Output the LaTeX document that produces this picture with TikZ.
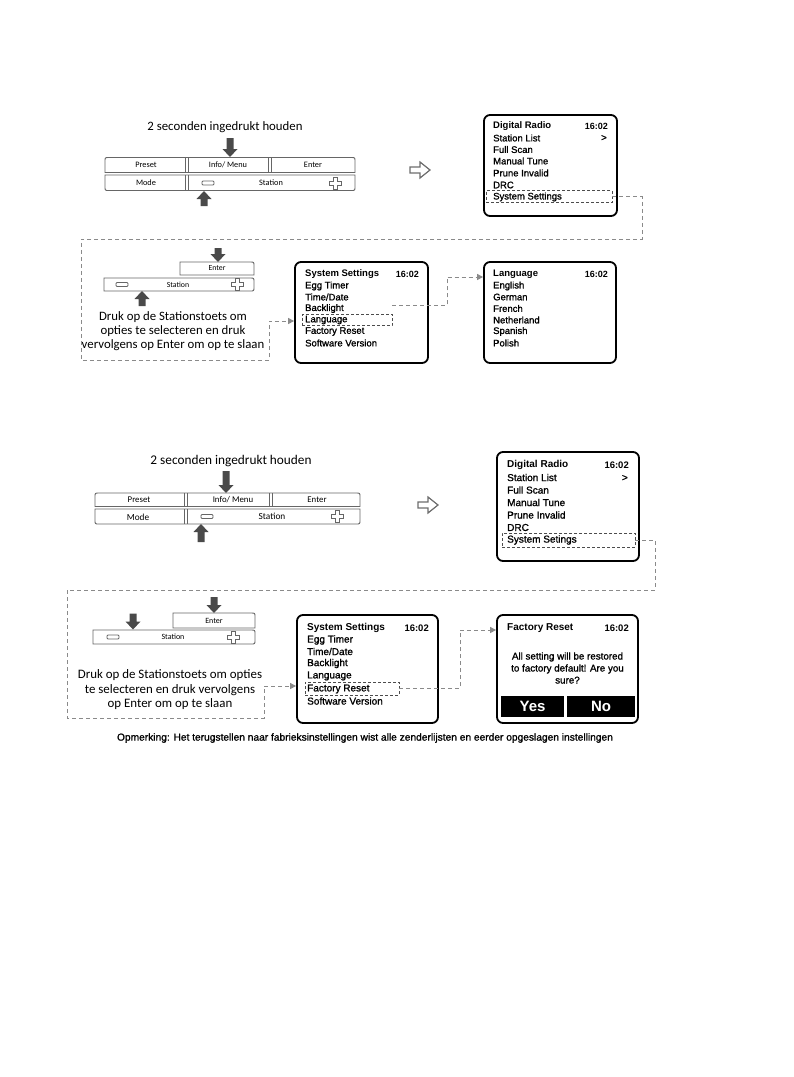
\documentclass[tikz,border=0pt]{standalone}
\usepackage{fontspec}
\setmainfont{Liberation Sans}
\newfontfamily\calfont{Carlito}
\newfontfamily\itemfont[FakeBold=1.2]{Liberation Sans}
\usetikzlibrary{arrows.meta}
\definecolor{arrgray}{HTML}{4A4A4A}
\definecolor{pline}{HTML}{666666}
\definecolor{cgray}{HTML}{8A8A8A}
\newcommand\rowtop[4]{\draw[panel] (#1,#4) -- (#1,{#3+4}) .. controls (#1,#3) .. ({#1+4},#3) -- ({#2-4},#3) .. controls (#2,#3) .. (#2,{#3+4}) -- (#2,#4) -- cycle;}
\newcommand\rowbot[4]{\draw[panel] (#1,#3) -- (#2,#3) -- (#2,{#4-4}) .. controls (#2,#4) .. ({#2-4},#4) -- ({#1+4},#4) .. controls (#1,#4) .. (#1,{#4-4}) -- cycle;}
\newcommand\dbl[3]{\draw[panel] (#1-1.5,#2) -- (#1-1.5,#3) (#1+1.5,#2) -- (#1+1.5,#3);}
\begin{document}
\begin{tikzpicture}[x=1pt,y=-1pt,
  panel/.style={draw=pline,line width=0.9pt},
  btxt/.style={inner sep=0pt,font=\calfont\fontsize{8.3}{9}\selectfont},
  instr/.style={inner sep=0pt,align=center,font=\calfont\fontsize{12.8}{14}\selectfont},
  screen/.style={draw=black,line width=1.8pt,rounded corners=6pt,inner sep=0pt},
  stitle/.style={anchor=west,inner sep=0pt,font=\bfseries\fontsize{9.5}{10}\selectfont},
  sitem/.style={anchor=west,inner sep=0pt,font=\itemfont\fontsize{9.5}{10}\selectfont},
  stime/.style={anchor=east,inner sep=0pt,font=\bfseries\fontsize{9}{10}\selectfont},
  stitleb/.style={anchor=west,inner sep=0pt,font=\bfseries\fontsize{10}{10}\selectfont},
  sitemb/.style={anchor=west,inner sep=0pt,font=\itemfont\fontsize{10}{10}\selectfont},
  hl/.style={draw=black!70,dash pattern=on 3pt off 2pt,line width=0.6pt,inner sep=0pt},
  conn/.style={draw=cgray,dash pattern=on 4pt off 3pt,line width=1pt},
  tip/.style={-{Triangle[length=6pt,width=6pt,fill=cgray]}},
  icon/.style={draw=pline,line width=0.8pt},
  downarr/.pic={\fill[arrgray] (0,0) -- (-7.5,-8) -- (-3.5,-8) -- (-3.5,-#1) -- (3.5,-#1) -- (3.5,-8) -- (7.5,-8) -- cycle;},
  uparr/.pic={\fill[arrgray] (0,0) -- (-7.5,8) -- (-3.5,8) -- (-3.5,#1) -- (3.5,#1) -- (3.5,8) -- (7.5,8) -- cycle;},
  hollow/.pic={\draw[draw=arrgray!80,line width=1.2pt,line join=miter] (0,-3) -- (10,-3) -- (10,-8) -- (20,0) -- (10,8) -- (10,3) -- (0,3) -- cycle;},
  plusico/.pic={\draw[icon] (-2,-6) -- (2,-6) -- (2,-2) -- (6,-2) -- (6,2) -- (2,2) -- (2,6) -- (-2,6) -- (-2,2) -- (-6,2) -- (-6,-2) -- (-2,-2) -- cycle;},
  minusico/.pic={\draw[icon,rounded corners=1pt] (-6,-2) rectangle (6,2);}
]
\useasboundingbox (0,0) rectangle (794,1077);
\fill[white] (0,0) rectangle (794,1077);

% ================= SECTION 1 =================
\node[instr] (t1) at (225,127) {2 seconden ingedrukt houden};
\rowtop{105}{355}{157.5}{172.5}
\rowbot{105}{355}{175}{190.5}
\dbl{186.5}{157.5}{172.5}
\dbl{186.5}{175}{190.5}
\dbl{270}{157.5}{172.5}
\node[btxt] (b1a) at (146,165) {Preset};
\node[btxt] (b1b) at (228,165) {Info/ Menu};
\node[btxt] (b1c) at (313,165) {Enter};
\node[btxt] (b1d) at (146,183) {Mode};
\node[btxt] (b1e) at (271,183) {Station};
\pic at (208,183) {minusico};
\pic at (335,183) {plusico};
\pic at (230,157) {downarr=19};
\pic at (204,191) {uparr=15};
\pic at (410,170) {hollow};

% screen 1
\node[screen,minimum width=133pt,minimum height=101pt] (s1) at (550.5,165.5) {};
\node[stitle] (s1a) at (493,126) {Digital Radio};
\node[stime] (s1t) at (608,126) {16:02};
\node[sitem] (s1b) at (493,138) {Station List};
\node[sitem,anchor=east] (s1g) at (607,138) {>};
\node[sitem] (s1c) at (493,149.5) {Full Scan};
\node[sitem] (s1d) at (493,161) {Manual Tune};
\node[sitem] (s1e) at (493,173) {Prune Invalid};
\node[sitem] (s1f) at (493,185) {DRC};
\node[sitem] (s1h) at (493,197) {System Settings};
\node[hl,minimum width=126pt,minimum height=12pt] (hl1) at (549,196.5) {};

% sub diagram 1
\draw[panel] (180,275) -- (180,262) -- (250,262) .. controls (254,262) .. (254,266) -- (254,275) -- cycle;
\draw[panel] (104,278) -- (250,278) .. controls (254,278) .. (254,282) -- (254,287) .. controls (254,291) .. (250,291) -- (104,291) -- cycle;
\node[btxt,font=\calfont\fontsize{7.8}{9}\selectfont] (e1) at (217,268.5) {Enter};
\node[btxt,font=\calfont\fontsize{7.8}{9}\selectfont] (st1) at (178,284.5) {Station};
\pic at (122,284.5) {minusico};
\pic at (237,284.5) {plusico};
\pic at (218,262) {downarr=14};
\pic at (142,291) {uparr=15};
\node[instr] (i1) at (173,331) {Druk op de Stationstoets om\\opties te selecteren en druk\\vervolgens op Enter om op te slaan};

% screen 2
\node[screen,minimum width=133pt,minimum height=101pt] (s2) at (361.5,312.5) {};
\node[stitle] (s2a) at (305,274) {System Settings};
\node[stime] (s2t) at (419,274) {16:02};
\node[sitem] (s2b) at (305,286) {Egg Timer};
\node[sitem] (s2c) at (305,297) {Time/Date};
\node[sitem] (s2d) at (305,308.5) {Backlight};
\node[sitem] (s2e) at (305,320) {Language};
\node[sitem] (s2f) at (305,331.5) {Factory Reset};
\node[sitem] (s2g) at (305,343) {Software Version};
\node[hl,minimum width=90pt,minimum height=11.5pt] (hl2) at (347,319.75) {};

% screen 3
\node[screen,minimum width=132pt,minimum height=101pt] (s3) at (550,312.5) {};
\node[stitle] (s3a) at (493,274) {Language};
\node[stime] (s3t) at (608,274) {16:02};
\node[sitem] (s3b) at (493,286) {English};
\node[sitem] (s3c) at (493,297) {German};
\node[sitem] (s3d) at (493,308.5) {French};
\node[sitem] (s3e) at (493,320) {Netherland};
\node[sitem] (s3f) at (493,331.5) {Spanish};
\node[sitem] (s3g) at (493,343) {Polish};

% connectors section 1
\coordinate (a1) at (0,321);
\coordinate (a2) at (0,277);
\draw[conn,tip] (hl1.east) -| (642,239) -| (81,360) -| (269,321) -- (s2.west |- a1);
\draw[conn,tip] ([yshift=8pt]hl2.north east) -| (447,277) -- (s3.west |- a2);

% ================= SECTION 2 =================
\node[instr,font=\calfont\fontsize{13.3}{14}\selectfont] (t2) at (231,461) {2 seconden ingedrukt houden};
\rowtop{95}{360}{493}{506.5}
\rowbot{95}{360}{509}{524}
\dbl{185.5}{493}{506.5}
\dbl{185.5}{509}{524}
\dbl{270.5}{493}{506.5}
\node[btxt,font=\calfont\fontsize{8.8}{9}\selectfont] (b2a) at (139,500) {Preset};
\node[btxt,font=\calfont\fontsize{8.8}{9}\selectfont] (b2b) at (233,500) {Info/ Menu};
\node[btxt,font=\calfont\fontsize{8.8}{9}\selectfont] (b2c) at (317,500) {Enter};
\node[btxt,font=\calfont\fontsize{9.3}{9}\selectfont] (b2d) at (138,517) {Mode};
\node[btxt,font=\calfont\fontsize{9.3}{9}\selectfont] (b2e) at (272,516.5) {Station};
\pic at (207,516.5) {minusico};
\pic at (337,516.5) {plusico};
\pic at (226,493) {downarr=22};
\pic at (201,524) {uparr=18};
\pic at (418,505) {hollow};

% screen 4
\node[screen,minimum width=142pt,minimum height=109pt] (s4) at (568,506.5) {};
\node[stitleb] (s4a) at (507,465) {Digital Radio};
\node[stime,font=\bfseries\fontsize{9.5}{10}\selectfont] (s4t) at (629,465.5) {16:02};
\node[sitemb] (s4b) at (507,477.5) {Station List};
\node[sitemb,anchor=east] (s4g) at (628,478) {>};
\node[sitemb] (s4c) at (507,490) {Full Scan};
\node[sitemb] (s4d) at (507,502.5) {Manual Tune};
\node[sitemb] (s4e) at (507,515) {Prune Invalid};
\node[sitemb] (s4f) at (507,527.5) {DRC};
\node[sitemb] (s4h) at (507,540) {System Setings};
\node[hl,minimum width=133pt,minimum height=14pt] (hl4) at (568.5,540) {};

% sub diagram 2
\draw[panel] (173,628) -- (173,613) -- (251,613) .. controls (255,613) .. (255,617) -- (255,628) -- cycle;
\draw[panel] (93,630) -- (251,630) .. controls (255,630) .. (255,634) -- (255,640) .. controls (255,644) .. (251,644) -- (93,644) -- cycle;
\node[btxt,font=\calfont\fontsize{8}{9}\selectfont] (e2) at (214,620.5) {Enter};
\node[btxt,font=\calfont\fontsize{8}{9}\selectfont] (st2) at (173,637) {Station};
\pic at (113,637) {minusico};
\pic at (233,637) {plusico};
\pic at (214,613) {downarr=16};
\pic at (133,629.5) {downarr=16};
\node[instr,font=\calfont\fontsize{12.9}{14.5}\selectfont] (i2) at (170,690) {Druk op de Stationstoets om opties\\te selecteren en druk vervolgens\\op Enter om op te slaan};

% screen 5
\node[screen,minimum width=141pt,minimum height=108pt] (s5) at (367.5,669) {};
\node[stitleb] (s5a) at (307,628) {System Settings};
\node[stime,font=\bfseries\fontsize{9.5}{10}\selectfont] (s5t) at (429,628.5) {16:02};
\node[sitemb] (s5b) at (307,640) {Egg Timer};
\node[sitemb] (s5c) at (307,651.5) {Time/Date};
\node[sitemb] (s5d) at (307,663.5) {Backlight};
\node[sitemb] (s5e) at (307,676) {Language};
\node[sitemb] (s5f) at (307,689) {Factory Reset};
\node[sitemb] (s5g) at (307,701) {Software Version};
\node[hl,minimum width=94pt,minimum height=13pt] (hl5) at (352,688.5) {};

% screen 6
\node[screen,minimum width=141pt,minimum height=108pt] (s6) at (567.5,669) {};
\node[stitleb] (s6a) at (507,628) {Factory Reset};
\node[stime,font=\bfseries\fontsize{9.5}{10}\selectfont] (s6t) at (629,628.5) {16:02};
\node[inner sep=0pt,align=center,font=\itemfont\fontsize{9.8}{12}\selectfont] (s6b) at (567.5,668) {All setting will be restored\\to factory default! Are you\\sure?};
\node[fill=black,inner sep=0pt,minimum width=63pt,minimum height=21pt,text=white,font=\bfseries\fontsize{15}{15}\selectfont] (yes) at (532.5,706.5) {Yes};
\node[fill=black,inner sep=0pt,minimum width=68pt,minimum height=21pt,text=white,font=\bfseries\fontsize{15}{15}\selectfont] (no) at (601,706.5) {No};

% connectors section 2
\coordinate (a4) at (0,686);
\coordinate (a5) at (0,630);
\draw[conn,tip] (hl4.east) -| (655,590) -| (67,718) -| (264,686) -- (s5.west |- a4);
\draw[conn,tip] (hl5.east) -| (460,630) -- (s6.west |- a5);

% footnote
\node[inner sep=0pt,font=\itemfont\fontsize{10.2}{10}\selectfont] (note) at (365,738) {Opmerking: Het terugstellen naar fabrieksinstellingen wist alle zenderlijsten en eerder opgeslagen instellingen};
\end{tikzpicture}
\end{document}
